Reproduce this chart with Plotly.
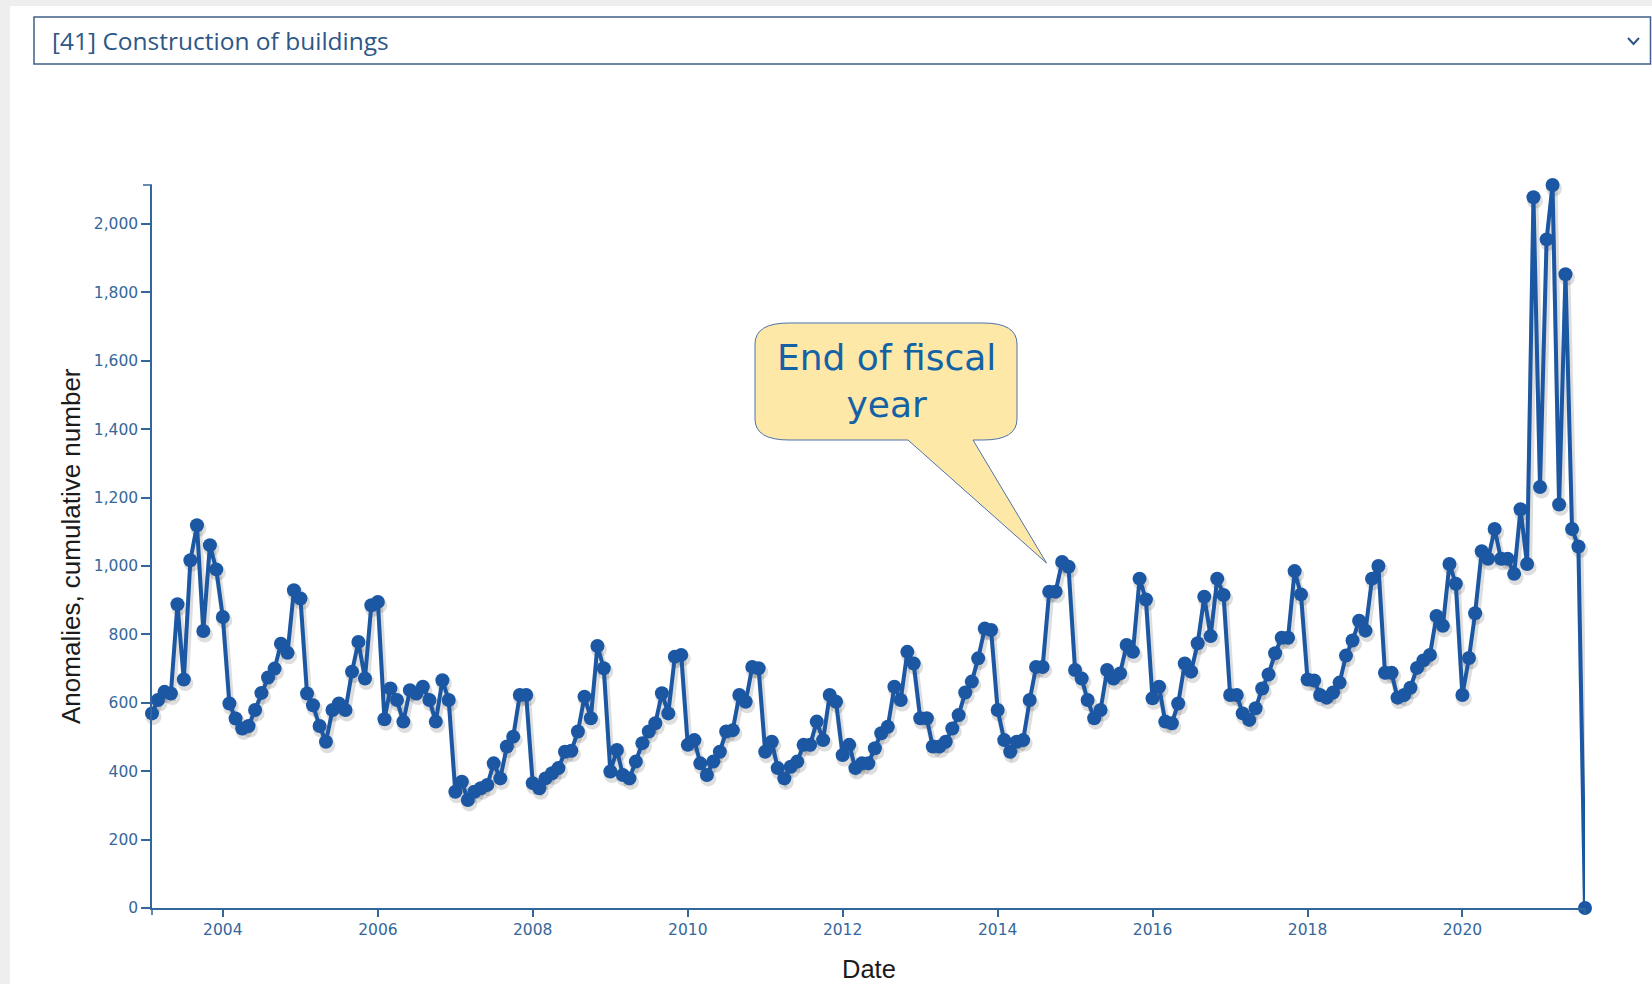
import pandas as pd
import plotly.graph_objects as go

# ---------------- data (monthly counts) ----------------
start_month = "2003-02-01"
values_2003 = [569, 608, 632, 627, 888, 668, 1017, 1119, 810, 1061, 990]  # Feb-Dec
values_2004 = [851, 598, 554, 525, 532, 579, 629, 674, 700, 773, 746, 929]
values_2005 = [905, 627, 593, 532, 486, 579, 598, 579, 691, 778, 671, 885]
values_2006 = [895, 552, 642, 608, 545, 637, 627, 647, 608, 545, 666, 608]
values_2007 = [340, 369, 316, 340, 350, 360, 423, 379, 472, 501, 623, 623]
values_2008 = [365, 350, 379, 394, 409, 457, 460, 516, 618, 555, 766, 701]
values_2009 = [399, 462, 389, 379, 428, 482, 516, 540, 628, 569, 735, 740]
values_2010 = [477, 491, 423, 389, 428, 457, 516, 520, 623, 603, 705, 701]
values_2011 = [457, 486, 409, 379, 413, 428, 477, 477, 545, 491, 623, 603]
values_2012 = [447, 477, 409, 423, 423, 467, 511, 530, 647, 608, 749, 715]
values_2013 = [555, 555, 472, 472, 486, 525, 564, 630, 662, 730, 817, 813]
values_2014 = [579, 491, 457, 486, 491, 608, 705, 705, 925, 925, 1012, 998]
values_2015 = [696, 671, 608, 555, 579, 696, 671, 686, 769, 749, 963, 902]
values_2016 = [613, 647, 545, 540, 598, 715, 691, 774, 910, 795, 963, 915]
values_2017 = [623, 623, 569, 550, 584, 642, 683, 745, 790, 790, 985, 917]
values_2018 = [668, 665, 623, 615, 630, 659, 738, 782, 840, 811, 963, 1000]
values_2019 = [688, 688, 615, 623, 644, 702, 724, 740, 854, 825, 1006, 948]
values_2020 = [623, 731, 862, 1043, 1021, 1108, 1021, 1021, 977, 1166, 1006, 2078]
values_2021 = [1231, 1955, 2114, 1180, 1853, 1108, 1057, 0]  # Jan-Aug

counts = (values_2003 + values_2004 + values_2005 + values_2006 + values_2007
          + values_2008 + values_2009 + values_2010 + values_2011 + values_2012
          + values_2013 + values_2014 + values_2015 + values_2016 + values_2017
          + values_2018 + values_2019 + values_2020 + values_2021)
dates = pd.date_range(start_month, periods=len(counts), freq="MS")

y_tick_values = list(range(0, 2001, 200))
x_tick_years = list(range(2004, 2021, 2))
x_tick_labels = [str(y) for y in x_tick_years]

selector_text = "[41] Construction of buildings"
callout_text = "End of fiscal<br>year"
y_title = "Anomalies, cumulative number"
x_title = "Date"

# ---------------- layout geometry ----------------
W, H = 1652, 984
L, R, T, B = 152, 1585, 185, 908
PW, PH = R - L, B - T


def px(x):
    return (x - L) / PW


def py(y):
    return (B - y) / PH


LINE_C = "#1b57a3"
AXIS_C = "#33669a"
TICK_TXT_C = "#35679b"

ymax = max(counts)
x_range = [dates[0], dates[-1]]
# shadow offset (pixels)
dx, dy = 1.5, 3.5
span = dates[-1] - dates[0]
shift = span * (dx / PW)
shadow_x_range = [str(dates[0] - shift), str(dates[-1] - shift)]
shadow_y_range = [dy / PH * ymax, ymax + dy / PH * ymax]

fig = go.Figure()
# soft shadow (base axes, hidden)
fig.add_trace(go.Scatter(
    x=dates, y=counts, mode="lines+markers", xaxis="x", yaxis="y",
    line=dict(color="rgba(0,0,0,0.13)", width=7),
    marker=dict(size=16, color="rgba(0,0,0,0.13)"),
    cliponaxis=False, hoverinfo="skip", showlegend=False,
))
# main series (visible axes)
fig.add_trace(go.Scatter(
    x=dates, y=counts, mode="lines+markers", xaxis="x2", yaxis="y2",
    line=dict(color=LINE_C, width=4),
    marker=dict(size=14, color=LINE_C),
    cliponaxis=False, showlegend=False,
))


def pth(points_cmds):
    out = []
    for cmd, pts in points_cmds:
        coords = " ".join(f"{px(x):.5f},{py(y):.5f}" for x, y in pts)
        out.append(f"{cmd}{coords}")
    return " ".join(out) + " Z"


# callout bubble geometry (pixels)
bl, br, bt, bb = 755, 1017, 323, 440
rx, ry = 34, 21
tail_l, tail_r, tip = 908, 973, (1046.5, 563)
bubble = pth([
    ("M", [(bl + rx, bt)]),
    ("L", [(br - rx, bt)]),
    ("Q", [(br, bt), (br, bt + ry)]),
    ("L", [(br, bb - ry)]),
    ("Q", [(br, bb), (br - rx, bb)]),
    ("L", [(tail_r, bb)]),
    ("L", [tip]),
    ("L", [(tail_l, bb)]),
    ("L", [(bl + rx, bb)]),
    ("Q", [(bl, bb), (bl, bb - ry)]),
    ("L", [(bl, bt + ry)]),
    ("Q", [(bl, bt), (bl + rx, bt)]),
])

shapes = [
    # page grey strips
    dict(type="rect", xref="paper", yref="paper", x0=px(0), x1=px(W), y0=py(0), y1=py(6),
         fillcolor="#eeeeee", line=dict(width=0), layer="below"),
    dict(type="rect", xref="paper", yref="paper", x0=px(0), x1=px(10), y0=py(0), y1=py(H),
         fillcolor="#eeeeee", line=dict(width=0), layer="below"),
    # selector box
    dict(type="rect", xref="paper", yref="paper", x0=px(34), x1=px(1650.5), y0=py(17), y1=py(64),
         fillcolor="white", line=dict(color="#3f6088", width=1.5), layer="below"),
    dict(type="path", xref="paper", yref="paper",
         path=f"M{px(1628):.5f},{py(38):.5f} L{px(1633.5):.5f},{py(44):.5f} L{px(1639):.5f},{py(38):.5f}",
         line=dict(color="#2d5786", width=2)),
    # d3-style outer ticks
    dict(type="line", xref="paper", yref="paper", x0=px(L - 9), x1=px(L), y0=1, y1=1,
         line=dict(color=AXIS_C, width=1.5)),
    dict(type="line", xref="paper", yref="paper", x0=1, x1=1, y0=0, y1=py(B + 7),
         line=dict(color=AXIS_C, width=1.5)),
    dict(type="line", xref="paper", yref="paper", x0=0, x1=0, y0=0, y1=py(B + 7),
         line=dict(color=AXIS_C, width=1.5)),
    # callout bubble
    dict(type="path", xref="paper", yref="paper", path=bubble,
         fillcolor="#fde8a8", line=dict(color="#4f73a8", width=1)),
]

annotations = [
    dict(text=selector_text, xref="paper", yref="paper", x=px(50), y=py(40.5),
         xanchor="left", yanchor="middle", showarrow=False,
         font=dict(family="Open Sans", size=24.5, color="#2d5786")),
    dict(text=callout_text, xref="paper", yref="paper", x=px(886), y=py(381),
         xanchor="center", yanchor="middle", showarrow=False,
         font=dict(family="DejaVu Sans", size=36, color="#1462a6")),
    dict(text=y_title, xref="paper", yref="paper", x=px(70.5), y=0.5, textangle=-90,
         xanchor="center", yanchor="middle", showarrow=False,
         font=dict(family="Liberation Sans", size=26, color="#1b1b1b")),
    dict(text=x_title, xref="paper", yref="paper", x=0.5, y=py(969.5),
         xanchor="center", yanchor="middle", showarrow=False,
         font=dict(family="Liberation Sans", size=25.5, color="#1b1b1b")),
]

fig.update_layout(
    width=W, height=H,
    margin=dict(l=L, r=W - R, t=T, b=H - B, pad=0),
    paper_bgcolor="white", plot_bgcolor="white",
    showlegend=False,
    xaxis=dict(visible=False, type="date", range=shadow_x_range, domain=[0, 1], fixedrange=True),
    yaxis=dict(visible=False, range=shadow_y_range, domain=[0, 1], fixedrange=True),
    xaxis2=dict(
        overlaying="x", anchor="y2", side="bottom", type="date",
        range=[str(x_range[0]), str(x_range[1])],
        tickvals=[pd.Timestamp(f"{y}-01-01") for y in x_tick_years], ticktext=x_tick_labels,
        showline=True, linecolor=AXIS_C, linewidth=1.5,
        ticks="outside", ticklen=7, tickwidth=1.5, tickcolor=AXIS_C,
        tickfont=dict(family="DejaVu Sans", size=15.5, color=TICK_TXT_C),
        showgrid=False, zeroline=False, fixedrange=True,
    ),
    yaxis2=dict(
        overlaying="y", anchor="x2", side="left",
        range=[0, ymax], tickvals=y_tick_values, tickformat=",",
        showline=True, linecolor=AXIS_C, linewidth=1.5,
        ticks="outside", ticklen=9, tickwidth=1.5, tickcolor=AXIS_C,
        tickfont=dict(family="DejaVu Sans", size=15.5, color=TICK_TXT_C),
        showgrid=False, zeroline=False, fixedrange=True,
    ),
    shapes=shapes,
    annotations=annotations,
)

fig.write_html(
    "out.html",
    config=dict(displayModeBar=False),
    post_script="document.body.style.margin='0';document.body.style.overflow='hidden';",
)
